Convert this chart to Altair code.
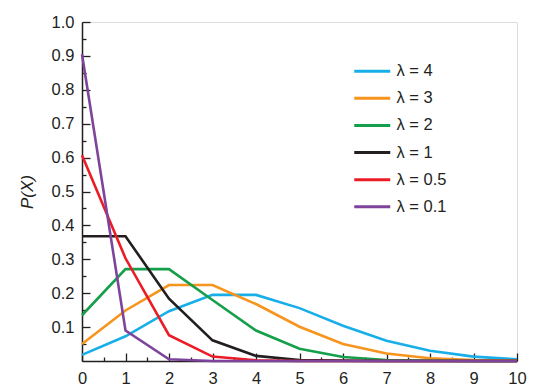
import altair as alt
import pandas as pd

# x values
XS = [0, 1, 2, 3, 4, 5, 6, 7, 8, 9, 10]
# series
P_L4 = [0.018, 0.073, 0.147, 0.195, 0.195, 0.156, 0.104, 0.060, 0.030, 0.013, 0.005]
P_L3 = [0.050, 0.149, 0.224, 0.224, 0.168, 0.101, 0.050, 0.022, 0.008, 0.003, 0.001]
P_L2 = [0.135, 0.271, 0.271, 0.180, 0.090, 0.036, 0.012, 0.003, 0.001, 0.000, 0.000]
P_L1 = [0.368, 0.368, 0.184, 0.061, 0.015, 0.003, 0.001, 0.000, 0.000, 0.000, 0.000]
P_L05 = [0.607, 0.303, 0.076, 0.013, 0.002, 0.000, 0.000, 0.000, 0.000, 0.000, 0.000]
P_L01 = [0.905, 0.090, 0.005, 0.000, 0.000, 0.000, 0.000, 0.000, 0.000, 0.000, 0.000]

LABELS = ["λ = 4", "λ = 3", "λ = 2", "λ = 1", "λ = 0.5", "λ = 0.1"]
COLORS = ["#18AEE8", "#F7941D", "#169F4B", "#231F20", "#EC1C24", "#7E439B"]
SERIES = [P_L4, P_L3, P_L2, P_L1, P_L05, P_L01]

Y_TICKS = [round(0.05 * i, 2) for i in range(1, 21)]
X_TICKS = [0.5 * i for i in range(0, 21)]

rows = []
for lab, vals in zip(LABELS, SERIES):
    for x, p in zip(XS, vals):
        rows.append({"x": x, "p": p, "series": lab})
df = pd.DataFrame(rows)

FONT = "Liberation Sans"
INK = "#231F20"

color = alt.Color(
    "series:N",
    scale=alt.Scale(domain=LABELS, range=COLORS),
    legend=alt.Legend(
        title=None,
        orient="none",
        legendX=282,
        legendY=41,
        padding=0,
        symbolType="M-3.6,0H3.6",
        symbolSize=100,
        symbolStrokeWidth=3,
        labelFont=FONT,
        labelFontSize=16.5,
        labelColor=INK,
        labelOffset=16,
        rowPadding=10.1,
    ),
)

xenc = alt.X(
    "x:Q",
    scale=alt.Scale(domain=[0, 10], nice=False, zero=False),
    axis=alt.Axis(
        title=None,
        values=X_TICKS,
        labelExpr="round(datum.value*2) % 2 == 0 ? format(datum.value, 'd') : ''",
        tickSize=alt.ExprRef(expr="round(datum.value*2) % 2 == 0 ? -8 : -4"),
        labelPadding=17,
        labelFont=FONT,
        labelFontSize=16.5,
        labelColor=INK,
        domainColor=INK,
        domainWidth=1.5,
        tickColor=INK,
        tickWidth=1.3,
        grid=False,
        labelFlush=False,
    ),
)
yenc = alt.Y(
    "p:Q",
    scale=alt.Scale(domain=[0, 1], nice=False),
    axis=alt.Axis(
        title="P(X)",
        values=Y_TICKS,
        labelExpr="round(datum.value*20) % 2 == 0 ? format(datum.value, '.1f') : ''",
        tickSize=alt.ExprRef(expr="round(datum.value*20) % 2 == 0 ? -8 : -4"),
        labelPadding=16,
        labelFont=FONT,
        labelFontSize=16.5,
        labelColor=INK,
        domainColor=INK,
        domainWidth=1.5,
        tickColor=INK,
        tickWidth=1.3,
        grid=False,
        labelFlush=False,
        titleFont=FONT,
        titleFontSize=17,
        titleFontStyle="italic",
        titleFontWeight="normal",
        titleColor=INK,
        titleAngle=270,
        titleX=-55,
        titleY=169.5,
        titleAlign="center",
        titleBaseline="middle",
    ),
)

layers = []
for lab in LABELS:
    layers.append(
        alt.Chart(df)
        .transform_filter(alt.datum.series == lab)
        .mark_line(strokeWidth=2.6, clip=False)
        .encode(x=xenc, y=yenc, color=color)
    )

chart = (
    alt.layer(*layers)
    .properties(
        width=435,
        height=339,
        autosize=alt.AutoSizeParams(type="none"),
        padding={"left": 74, "top": 14, "right": 20, "bottom": 30},
    )
    .configure_view(stroke=None)
    .configure(background="white")
)

chart.save("out.html", embed_options={"renderer": "svg", "actions": False})
